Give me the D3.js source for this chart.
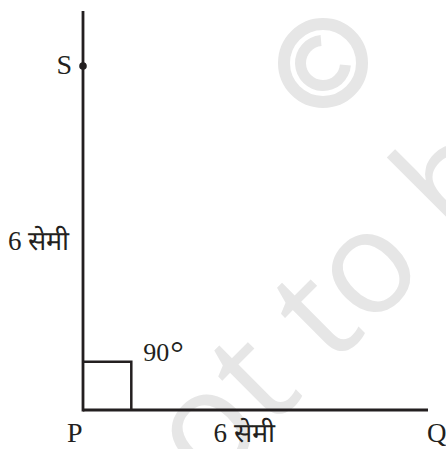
<!DOCTYPE html>
<html>
<head>
<meta charset="utf-8">
<script src="https://cdn.jsdelivr.net/npm/d3@7"></script>
<style>
  html, body { margin: 0; padding: 0; background: #fff; }
  svg { display: block; }
</style>
</head>
<body>
<svg id="chart" width="446" height="449"></svg>
<script>
// ---- data (lengths in cm) ----
const pointNames = ["P", "Q", "S"];
const pointX = [0, 6, 0];
const pointY = [0, 0, 6];
const rayTop = 6.96;          // vertical ray from P continues beyond S
const sideLabels = ["6 सेमी", "6 सेमी"];
const angleValue = "90";
const angleUnit = "°";
const rightAngleSize = 0.84;  // side of the right-angle marker, cm
const watermarkText = "not to be";

const W = 446, H = 449;
const svg = d3.select("#chart");

const x = d3.scaleLinear().domain([0, 6]).range([83, 428]);
const y = d3.scaleLinear().domain([0, 6]).range([410, 66]);

const ink = "#231f20";
const wmColor = "#e6e6e6";
const serif = "'Liberation Serif', 'Noto Serif', 'DejaVu Serif', serif";

// ---- watermark ----
const wm = svg.append("g");
const wmSize = 144;
const wmText = wm.append("text")
  .attr("fill", wmColor)
  .style("font-family", "'Open Sans', 'DejaVu Sans', sans-serif")
  .style("font-weight", 500)
  .style("font-size", wmSize + "px")
  .text(watermarkText);
// place the text so that the "o" of "to" sits where it is in the reference
(function placeWatermark() {
  const node = wmText.node();
  const ext = node.getExtentOfChar(5);
  const cx = ext.x + ext.width / 2, cy = -0.27 * wmSize;
  const a = -Math.PI / 4;
  const rx = cx * Math.cos(a) - cy * Math.sin(a);
  const ry = cx * Math.sin(a) + cy * Math.cos(a);
  const tx = 371 - rx, ty = 273 - ry;
  wmText.attr("transform", `translate(${tx},${ty}) rotate(-45)`);
})();
wm.append("circle")
  .attr("cx", 323).attr("cy", 63).attr("r", 39)
  .attr("fill", "none").attr("stroke", wmColor).attr("stroke-width", 12);
wm.append("path")
  .attr("fill", wmColor)
  .attr("d", d3.arc()({innerRadius: 17, outerRadius: 28,
    startAngle: 95 * Math.PI / 180, endAngle: 355 * Math.PI / 180}))
  .attr("transform", "translate(323,63)");

// ---- geometry ----
const P = [x(pointX[0]), y(pointY[0])];
const Q = [x(pointX[1]), y(pointY[1])];
const S = [x(pointX[2]), y(pointY[2])];

svg.append("line")
  .attr("x1", P[0]).attr("y1", P[1]).attr("x2", Q[0]).attr("y2", Q[1])
  .attr("stroke", ink).attr("stroke-width", 2.8);
svg.append("line")
  .attr("x1", P[0]).attr("y1", P[1] + 1.4).attr("x2", x(0)).attr("y2", y(rayTop))
  .attr("stroke", ink).attr("stroke-width", 2.8);

// right-angle marker
svg.append("path")
  .attr("d", d3.line()([
    [x(0), y(rightAngleSize)],
    [x(rightAngleSize), y(rightAngleSize)],
    [x(rightAngleSize), y(0)]
  ]))
  .attr("fill", "none").attr("stroke", ink).attr("stroke-width", 2.5);

// point S dot
svg.append("circle").attr("cx", S[0]).attr("cy", S[1]).attr("r", 3.8).attr("fill", ink);

// ---- labels ----
const txt = (t, px, py, size, anchor) => svg.append("text")
  .attr("x", px).attr("y", py)
  .attr("text-anchor", anchor || "start")
  .attr("fill", ink)
  .style("font-family", serif)
  .style("font-size", size + "px")
  .text(t);

txt(pointNames[2], S[0] - 11, S[1] + 8, 28, "end");
txt(pointNames[0], P[0] - 16, P[1] + 32, 28);
txt(pointNames[1], Q[0] - 1, Q[1] + 32, 27);
txt(sideLabels[0], 8, (y(0) + y(6)) / 2 + 12, 27);
txt(sideLabels[1], (x(0) + x(6)) / 2 - 42, P[1] + 32, 27);
const ang = txt(angleValue, x(rightAngleSize) + 12, y(rightAngleSize) - 1, 26);
ang.append("tspan").attr("dx", 1).attr("dy", 3).style("font-size", "34px").text(angleUnit);
</script>
</body>
</html>
